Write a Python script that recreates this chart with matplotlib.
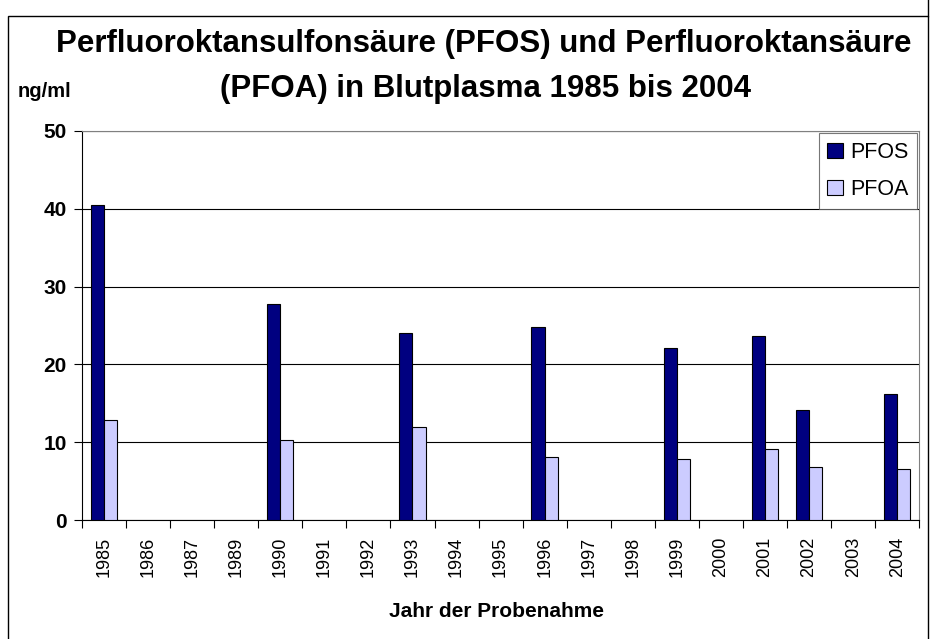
import matplotlib.pyplot as plt
import numpy as np
from matplotlib.lines import Line2D
from matplotlib.patches import Rectangle

plt.rcParams['font.family'] = ['Liberation Sans', 'DejaVu Sans']

# daten
jahre = ['1985', '1986', '1987', '1989', '1990', '1991', '1992', '1993', '1994', '1995',
         '1996', '1997', '1998', '1999', '2000', '2001', '2002', '2003', '2004']
pfos = [40.5, 0, 0, 0, 27.7, 0, 0, 24.1, 0, 0, 24.8, 0, 0, 22.1, 0, 23.7, 14.2, 0, 16.2]
pfoa = [12.8, 0, 0, 0, 10.3, 0, 0, 12.0, 0, 0, 8.1, 0, 0, 7.9, 0, 9.1, 6.8, 0, 6.6]
yticks = [0, 10, 20, 30, 40, 50]

fig = plt.figure(figsize=(9.38, 6.39), dpi=100)
ax = fig.add_axes([0.0874, 0.1862, 0.8926, 0.6088])

x = np.arange(len(jahre))
w = 0.3
for i in range(len(jahre)):
    if pfos[i] > 0:
        ax.bar(x[i] - w / 2, pfos[i], w, color='#000080', edgecolor='black', linewidth=0.8, zorder=3)
    if pfoa[i] > 0:
        ax.bar(x[i] + w / 2, pfoa[i], w, color='#CCCCFF', edgecolor='black', linewidth=0.8, zorder=3)

ax.set_xlim(-0.5, len(jahre) - 0.5)
ax.set_ylim(0, 50)
ax.set_yticks(yticks)
ax.set_yticklabels([str(v) for v in yticks], fontsize=15, fontweight='bold')
ax.yaxis.grid(True, color='black', linewidth=0.8, zorder=0)

# jahreszahlen senkrecht, tick-striche zwischen den kategorien
ax.set_xticks(x)
ax.set_xticklabels(jahre, rotation=90, fontsize=13)
ax.tick_params(axis='x', length=0, pad=12)
ax.set_xticks(np.arange(-0.5, len(jahre)), minor=True)
ax.tick_params(axis='x', which='minor', length=6, direction='out', width=0.8)
ax.tick_params(axis='y', length=6, direction='out', width=0.8, pad=5)

ax.spines['top'].set_color('#808080')
ax.spines['right'].set_color('#808080')
ax.spines['left'].set_linewidth(0.8)
ax.spines['bottom'].set_linewidth(0.8)

fig.text(496 / 938, 1 - 617 / 639, 'Jahr der Probenahme', ha='center', va='baseline',
         fontsize=15, fontweight='bold')

leg = ax.legend(['PFOS', 'PFOA'], loc='upper right', fontsize=15.5, frameon=True,
                fancybox=False, handlelength=0.7, handleheight=0.7, handletextpad=0.35,
                borderpad=0.4, labelspacing=0.75, borderaxespad=0.1)
leg.get_frame().set_edgecolor('#555555')
leg.get_frame().set_linewidth(0.8)

fig.text(484 / 938, 1 - 52 / 639, 'Perfluoroktansulfonsäure (PFOS) und Perfluoroktansäure',
         ha='center', va='baseline', fontsize=22.5, fontweight='bold')
fig.text(486 / 938, 1 - 97 / 639, '(PFOA) in Blutplasma 1985 bis 2004',
         ha='center', va='baseline', fontsize=22.5, fontweight='bold')
fig.text(18 / 938, 1 - 97 / 639, 'ng/ml', ha='left', va='baseline', fontsize=14.5, fontweight='bold')

# rahmen
fig.patches.append(Rectangle((8 / 938, -0.1), 920 / 938, 1.1 - 16 / 639, transform=fig.transFigure,
                             fill=False, edgecolor='black', linewidth=1.0))
fig.lines.append(Line2D([928 / 938, 928 / 938], [1, 1 - 16 / 639], transform=fig.transFigure,
                        color='black', linewidth=1.0))

plt.savefig('out.png', dpi=100)
